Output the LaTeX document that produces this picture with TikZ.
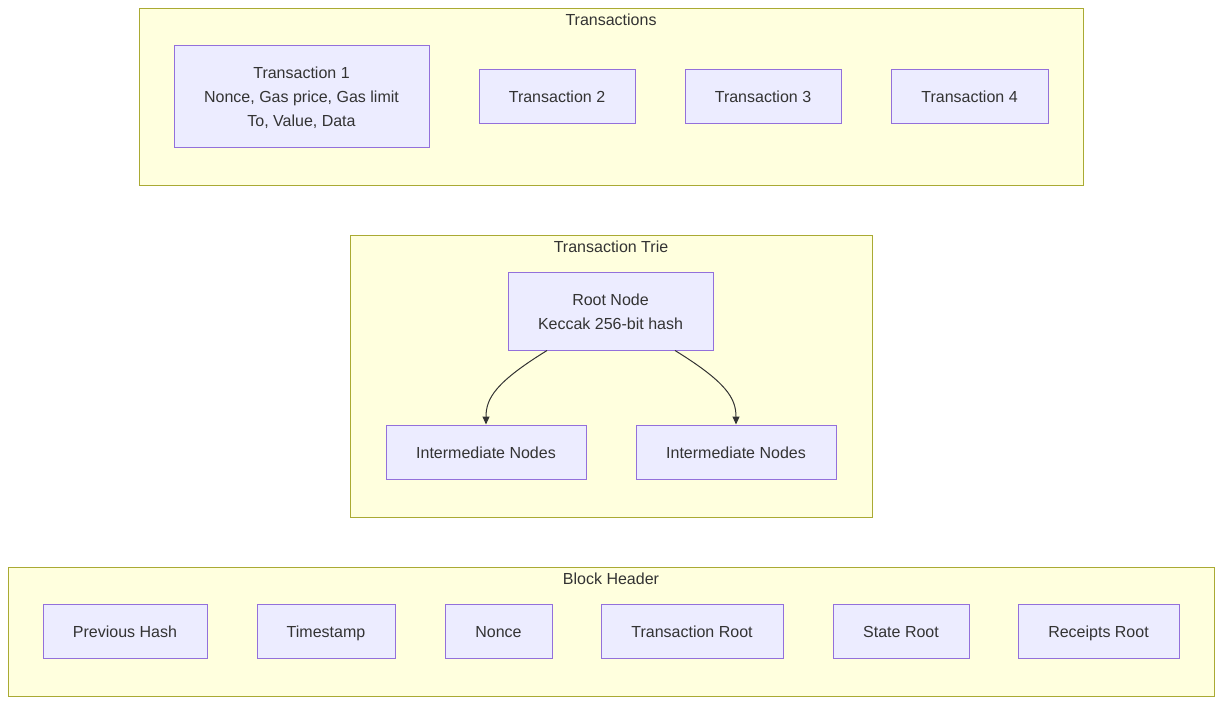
\documentclass[tikz,border=0pt]{standalone}
\usepackage{fontspec}
\setmainfont{Liberation Sans}
\usepackage{tikz}
\usetikzlibrary{arrows.meta}
\definecolor{clfill}{HTML}{FFFFDE}
\definecolor{cldraw}{HTML}{AAAA33}
\definecolor{ndfill}{HTML}{ECECFF}
\definecolor{nddraw}{HTML}{9370DB}
\definecolor{txt}{HTML}{333333}

\begin{document}
\begin{tikzpicture}[x=1pt, y=-1pt, line width=1pt,
  every node/.style={font=\fontsize{16}{24}\selectfont, text=txt, inner sep=0pt},
  oneline/.style={text height=14pt, text depth=1pt},
  cluster/.style={fill=clfill, draw=cldraw},
  tnode/.style={draw=nddraw, fill=ndfill, minimum height=54pt, align=center},
  link/.style={draw=txt, -{Triangle[length=8pt,width=7pt]}}]
  \useasboundingbox (0,0) rectangle (1222,704);
  % clusters
  \draw[cluster] (139,8) rectangle (1083,185);
  \node[oneline] (txs) at (611,19) {Transactions};
  \draw[cluster] (350,235) rectangle (872,517);
  \node[oneline] (trie) at (611,246) {Transaction Trie};
  \draw[cluster] (8,567) rectangle (1214,696);
  \node[oneline] (hdr) at (611,578) {Block Header};
  % transactions
  \node[tnode, minimum width=255pt, minimum height=102pt] (tx1) at (301.5,96)
    {\rule{0pt}{15pt}Transaction 1\\Nonce, Gas price, Gas limit\\To, Value, Data};
  \foreach \x/\w [count=\i from 2] in {557/156, 763/156, 969.5/157}
    \node[tnode, oneline, minimum width=\w pt] (tx\i) at (\x,96) {Transaction \i};
  % trie
  \node[tnode, minimum width=205pt, minimum height=78pt] (root) at (610.5,311)
    {\rule{0pt}{14pt}Root Node\\Keccak 256-bit hash\rule[-1pt]{0pt}{0pt}};
  \node[tnode, oneline, minimum width=200pt] (mid1) at (486,452) {Intermediate Nodes};
  \node[tnode, oneline, minimum width=200pt] (mid2) at (736,452) {Intermediate Nodes};
  \draw[link] ([xshift=-63.5pt]root.south) .. controls (496,382) and (486,398) .. (mid1.north);
  \draw[link] ([xshift=64.5pt]root.south) .. controls (726,382) and (736,398) .. (mid2.north);
  % header fields
  \foreach \x/\w/\t [count=\i] in {125/164/Previous Hash, 326/138/Timestamp,
      498.5/107/Nonce, 692/182/Transaction Root, 901/136/State Root,
      1098.5/161/Receipts Root}
    \node[tnode, oneline, minimum width=\w pt] (h\i) at (\x,631) {\t};
\end{tikzpicture}
\end{document}
